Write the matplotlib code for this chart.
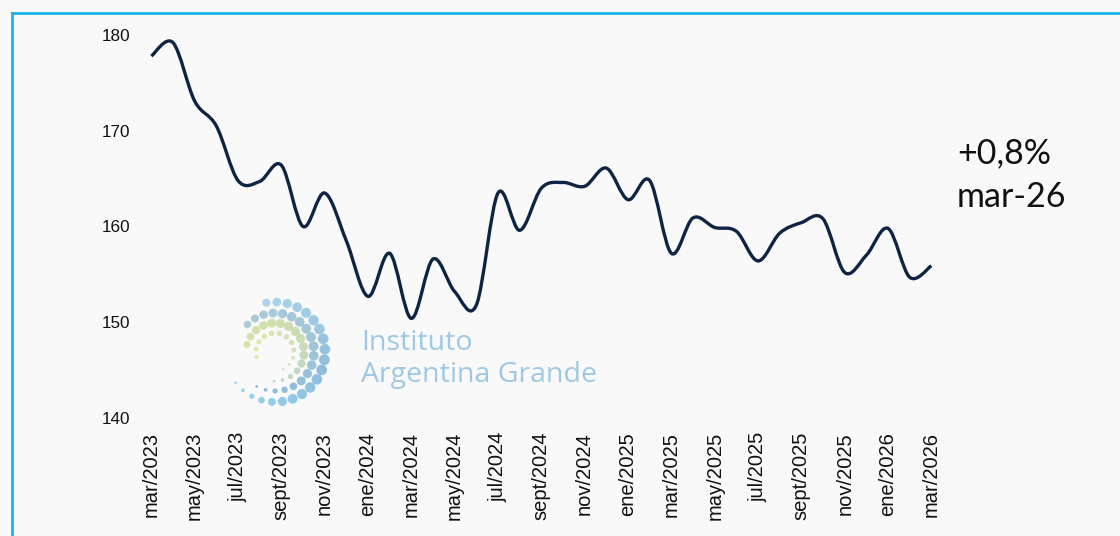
import numpy as np
import matplotlib
matplotlib.use("Agg")
import matplotlib.pyplot as plt
from matplotlib.path import Path
from matplotlib.patches import PathPatch
from matplotlib.lines import Line2D

# ---------------- data ----------------
months = ["mar", "abr", "may", "jun", "jul", "ago", "sept", "oct", "nov", "dic",
          "ene", "feb"]
start_year = 2023
values = [177.8, 179.2, 173.1, 170.5, 164.8, 164.7, 166.4, 160.0, 163.5, 158.5,
          152.7, 157.2, 150.4, 156.6, 153.2, 151.8, 163.5, 159.6, 164.0, 164.6,
          164.2, 166.1, 162.8, 164.8, 157.2, 160.9, 159.9, 159.5, 156.4, 159.3,
          160.4, 160.8, 155.2, 157.0, 159.8, 154.7, 155.9]
y_ticks = [140, 150, 160, 170, 180]
annotation_lines = ["+0,8%", "mar-26"]
logo_lines = ["Instituto", "Argentina Grande"]

# category labels
labels = []
for i in range(len(values)):
    m = months[i % 12]
    yr = start_year + (i + 2) // 12
    labels.append(f"{m}/{yr}")

W, H = 1120, 536
DPI = 100
fig = plt.figure(figsize=(W / DPI, H / DPI), dpi=DPI, facecolor="#f9f9f9")


def fx(px):
    return px / W


def fy(py):
    return 1 - py / H


# axes placement (pixel based)
x_left, x_right = 140.5, 942.2
y_top, y_bot = 35, 418
ax = fig.add_axes([fx(x_left), fy(y_bot), fx(x_right - x_left), (y_bot - y_top) / H])
ax.set_facecolor("none")
ax.set_xlim(-0.5, len(values) - 0.5)
ax.set_ylim(140, 180)

# smoothed line (Excel-like Bezier through the data points)
xs = np.arange(len(values), dtype=float)
ys = np.array(values, dtype=float)
verts = [(xs[0], ys[0])]
codes = [Path.MOVETO]
n = len(xs)
for i in range(n - 1):
    p0 = np.array([xs[max(i - 1, 0)], ys[max(i - 1, 0)]])
    p1 = np.array([xs[i], ys[i]])
    p2 = np.array([xs[i + 1], ys[i + 1]])
    p3 = np.array([xs[min(i + 2, n - 1)], ys[min(i + 2, n - 1)]])
    c1 = p1 + (p2 - p0) / 6.0
    c2 = p2 - (p3 - p1) / 6.0
    verts += [tuple(c1), tuple(c2), tuple(p2)]
    codes += [Path.CURVE4, Path.CURVE4, Path.CURVE4]
patch = PathPatch(Path(verts, codes), facecolor="none", edgecolor="#0e2443",
                  lw=2.4, capstyle="butt", joinstyle="round", zorder=5)
ax.add_patch(patch)

ax.set_yticks(y_ticks)
ax.set_yticklabels([str(t) for t in y_ticks], fontfamily="Liberation Sans",
                   fontsize=12.3, color="#111111")
ax.set_xticks(xs[::2])
ax.set_xticklabels(labels[::2], rotation=90, fontfamily="Liberation Sans",
                   fontsize=14.5, color="#111111")
ax.tick_params(axis="y", length=0, pad=7.5)
ax.tick_params(axis="x", length=0, pad=10)
for s in ax.spines.values():
    s.set_visible(False)

# annotation
fig.text(fx(957), fy(163), annotation_lines[0], fontfamily="Lato", fontsize=24.5,
         color="#111111", va="baseline", ha="left")
fig.text(fx(957), fy(207), annotation_lines[1], fontfamily="Lato", fontsize=24.5,
         color="#111111", va="baseline", ha="left")

# border lines
fig.add_artist(Line2D([fx(12), fx(12)], [fy(13), 0], color="#1cb4e8", lw=2.0))
fig.add_artist(Line2D([fx(12), 1], [fy(13), fy(13)], color="#1cb4e8", lw=2.0))

# ---------------- logo (decorative) ----------------
lx0, lx1, ly0, ly1 = 225, 340, 290, 415
lax = fig.add_axes([fx(lx0), fy(ly1), fx(lx1 - lx0), (ly1 - ly0) / H], zorder=0)
lax.set_xlim(lx0, lx1)
lax.set_ylim(ly1, ly0)
lax.axis("off")
cx, cy = 275, 352


def mix(c1, c2, t):
    a = np.array(matplotlib.colors.to_rgb(c1))
    b = np.array(matplotlib.colors.to_rgb(c2))
    return tuple(a + (b - a) * t)


rings = [
    # radius, start angle, end angle, count, max size, colors (start, mid, end)
    (50, 100, -142, 21, 60, ("#a9d3ea", "#8bbadc", "#8fd8f2")),
    (39, 135, -118, 19, 50, ("#a9c9d6", "#9cc3d8", "#7fb6dc")),
    (29, 165, -92, 16, 44, ("#d4e3a2", "#c8dcb0", "#bcd5cc")),
    (19, 195, -65, 12, 16, ("#dfe7a6", "#d8e2b0", "#cfe0c4")),
]
for r, a0, a1, cnt, smax, cols in rings:
    ang = np.linspace(a0, a1, cnt)
    t = np.linspace(0, 1, cnt)
    size = smax * np.clip(np.sin(np.pi * (0.15 + 0.8 * t)) ** 0.7, 0.1, 1)
    size = size * (1 - 0.85 * np.clip((t - 0.72) / 0.28, 0, 1))
    size = np.maximum(size, 4)
    px = cx + r * np.cos(np.radians(ang))
    py = cy - r * np.sin(np.radians(ang))
    cl = [mix(cols[0], cols[1], tt * 2) if tt < 0.5 else mix(cols[1], cols[2], (tt - 0.5) * 2)
          for tt in t]
    lax.scatter(px, py, s=size, c=cl, edgecolors="none", alpha=0.95)

fig.text(fx(361), fy(350), logo_lines[0], fontfamily="Open Sans", fontsize=20.5,
         fontweight="medium", color="#9ec8e3", va="baseline", ha="left", zorder=1)
fig.text(fx(361), fy(382), logo_lines[1], fontfamily="Open Sans", fontsize=20.5,
         fontweight="medium", color="#9ec8e3", va="baseline", ha="left", zorder=1)

fig.savefig("out.png", dpi=DPI, facecolor=fig.get_facecolor())
